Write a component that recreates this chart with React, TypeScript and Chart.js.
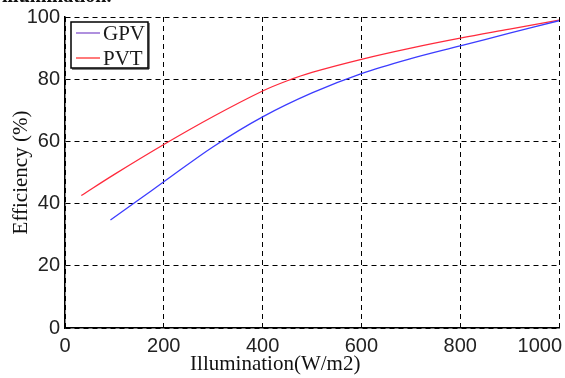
import React, { useEffect, useRef } from 'react';
import { Chart, registerables } from 'chart.js';

Chart.register(...registerables);

const gpvIllumination = [92, 150, 200, 300, 400, 500, 600, 700, 800, 900, 1000];
const gpvEfficiency = [34.7, 41.3, 47.0, 58.3, 67.9, 75.6, 81.8, 86.6, 90.7, 94.8, 98.8];
const pvtIllumination = [33, 100, 200, 300, 400, 450, 500, 600, 700, 800, 900, 1000];
const pvtEfficiency = [42.6, 49.4, 59.0, 68.0, 76.2, 79.5, 82.2, 86.4, 90.0, 93.2, 96.1, 99.0];
const seriesLabels = ['GPV', 'PVT'];
const lineColors = ['#3c3cff', '#ff2a3c'];
const legendColors = ['#7a45c8', '#ff2020'];
const xTitle = 'Illumination(W/m2)';
const yTitle = 'Efficiency (%)';
const headerText = 'illumination.';

const legendBox = {
  id: 'legendBox',
  afterDraw(chart: any) {
    const ctx = chart.ctx;
    const { left, top } = chart.chartArea;
    const x = left + 6;
    const y = top + 5;
    const w = 77;
    const h = 46;
    ctx.save();
    ctx.fillStyle = '#fff';
    ctx.fillRect(x, y, w, h);
    ctx.strokeStyle = '#000';
    ctx.lineWidth = 1.5;
    ctx.strokeRect(x, y, w, h);
    ctx.beginPath();
    ctx.moveTo(x + w + 1, y + 1);
    ctx.lineTo(x + w + 1, y + h + 1);
    ctx.lineTo(x + 1, y + h + 1);
    ctx.lineWidth = 1;
    ctx.stroke();
    ctx.font = '21px "Liberation Serif"';
    ctx.textBaseline = 'middle';
    ctx.textAlign = 'left';
    chart.data.datasets.forEach((ds: any, i: number) => {
      const ly = y + 11 + i * 25;
      ctx.strokeStyle = legendColors[i];
      ctx.lineWidth = 1.2;
      ctx.beginPath();
      ctx.moveTo(x + 5, ly);
      ctx.lineTo(x + 29, ly);
      ctx.stroke();
      ctx.fillStyle = '#1a1a1a';
      ctx.fillText(ds.label, x + 32, ly + 1);
    });
    ctx.restore();
  },
};

const edgeLabel = {
  id: 'edgeLabel',
  beforeDraw(chart: any) {
    const sx = chart.scales.x;
    const items = sx.getLabelItems(chart.chartArea);
    if (items && items.length) {
      const last = items[items.length - 1];
      last.options.textAlign = 'right';
      last.options.translation = [sx.right + 3, last.options.translation[1]];
    }
  },
};

export default function App() {
  const ref = useRef<HTMLCanvasElement>(null);
  useEffect(() => {
    const canvas = ref.current!;
    const chart = new Chart(canvas, {
      type: 'line',
      data: {
        datasets: [
          {
            label: seriesLabels[0],
            data: gpvIllumination.map((x, i) => ({ x, y: gpvEfficiency[i] })),
            borderColor: lineColors[0],
            borderWidth: 1.3,
            pointRadius: 0,
            tension: 0.35,
            fill: false,
          },
          {
            label: seriesLabels[1],
            data: pvtIllumination.map((x, i) => ({ x, y: pvtEfficiency[i] })),
            borderColor: lineColors[1],
            borderWidth: 1.3,
            pointRadius: 0,
            tension: 0.35,
            fill: false,
          },
        ],
      },
      options: {
        responsive: false,
        animation: false,
        devicePixelRatio: 1,
        layout: { padding: { left: 0, top: 17, right: 6, bottom: 0 } },
        plugins: { legend: { display: false }, tooltip: { enabled: false } },
        scales: {
          x: {
            type: 'linear',
            min: 0,
            max: 1000,
            ticks: {
              stepSize: 200,
              color: '#222',
              font: { family: '"Liberation Sans", Arial, sans-serif', size: 20 },
              padding: 6,
              maxRotation: 0,
              callback: (v: any) => String(v),
            },
            grid: { color: '#000', lineWidth: 1, drawTicks: false },
            border: { display: true, color: '#000', width: 1.5, dash: [5, 4] },
            title: {
              display: true,
              text: xTitle + '\u00A0'.repeat(14),
              color: '#111',
              font: { family: '"Liberation Serif", serif', size: 21 },
              padding: { top: 0, bottom: 1 },
            },
            afterFit(scale: any) {
              scale.height = 50;
              scale.paddingLeft = 0;
              scale.paddingRight = 0;
            },
          },
          y: {
            type: 'linear',
            min: 0,
            max: 100,
            ticks: {
              stepSize: 20,
              color: '#222',
              font: { family: '"Liberation Sans", Arial, sans-serif', size: 20 },
              padding: 5,
              callback: (v: any) => String(v),
            },
            grid: { color: '#000', lineWidth: 1, drawTicks: false },
            border: { display: true, color: '#000', width: 1.5, dash: [5, 4] },
            title: {
              display: true,
              text: yTitle,
              color: '#111',
              font: { family: '"Liberation Serif", serif', size: 21 },
              padding: { top: 9, bottom: 0 },
            },
            afterFit(scale: any) {
              scale.width = 65;
              scale.paddingTop = 0;
              scale.paddingBottom = 0;
            },
          },
        },
      },
      plugins: [edgeLabel, legendBox],
    } as any);
    return () => chart.destroy();
  }, []);
  return (
    <div
      style={{
        position: 'fixed',
        left: 0,
        top: 0,
        width: 565,
        height: 378,
        overflow: 'hidden',
        background: '#fff',
      }}
    >
      <canvas ref={ref} width={565} height={378} style={{ display: 'block' }} />
      <div
        style={{
          position: 'absolute',
          left: 2,
          top: -16,
          font: 'bold 20px "Liberation Serif", serif',
          color: '#111',
          whiteSpace: 'nowrap',
        }}
      >
        {headerText}
      </div>
    </div>
  );
}
